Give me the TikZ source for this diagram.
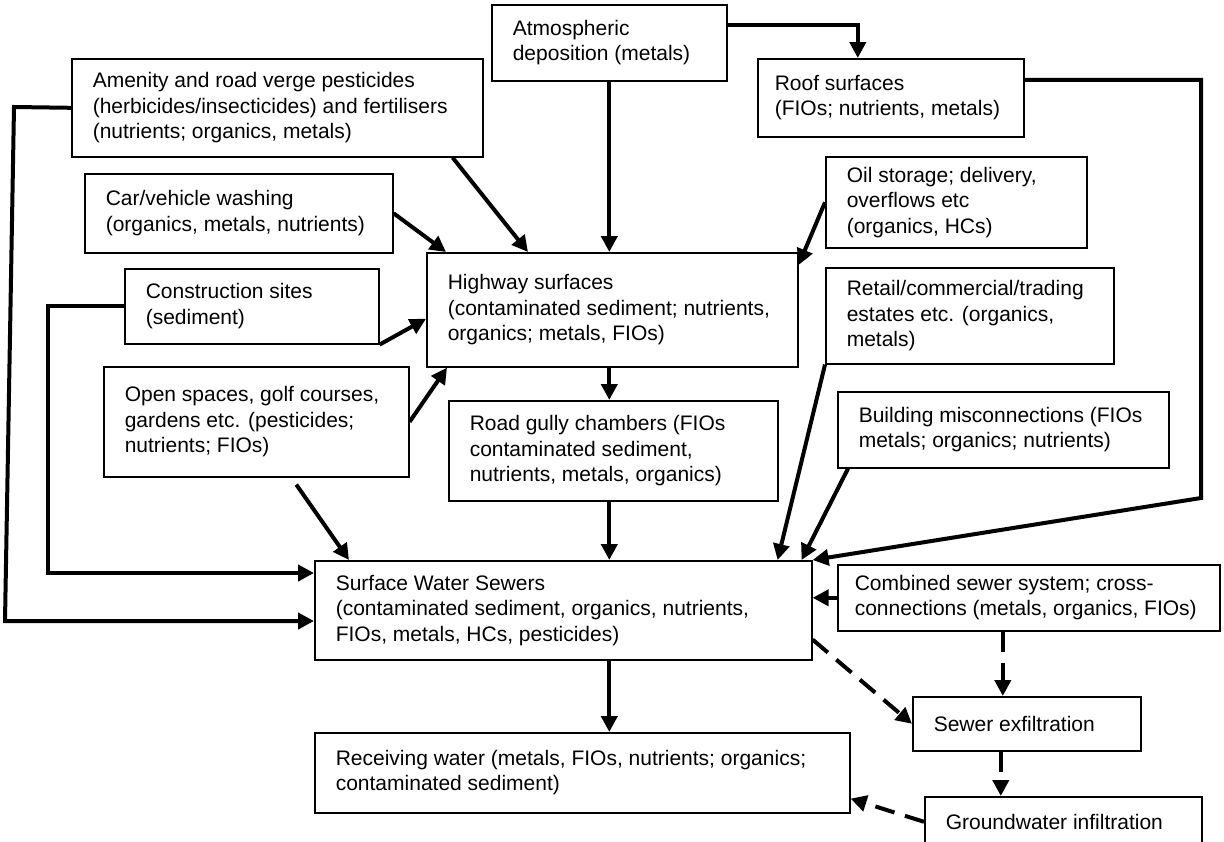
\documentclass[tikz,border=0pt]{standalone}
\usepackage{fontspec}
\setmainfont{Liberation Sans}
\usetikzlibrary{arrows.meta}
\tikzset{
    box/.style={draw, line width=1.6pt, rectangle, anchor=north west, align=flush left,
        inner ysep=0pt, font=\fontsize{21pt}{25.5pt}\selectfont},
    flow/.style={line width=4pt, -{Triangle[length=16pt, width=16pt]}},
    seep/.style={flow, dash pattern=on 20pt off 11pt},
}
\newcommand{\flowbox}[7][21]{% pad, name, x, y, width, height, text
    \pgfmathsetmacro{\boxtw}{#5-2*#1}
    \node[box, inner xsep=#1pt, minimum width=#5pt, minimum height=#6pt, text width=\boxtw pt] (#2) at (#3, #4) {#7};
}

\begin{document}
\begin{tikzpicture}[x=1pt, y=-1pt]
    \clip (0, 0) rectangle (1224, 841);
    \flowbox{atmos}{491}{4}{235}{76}{Atmospheric\\deposition (metals)}
    \flowbox[17]{roof}{757}{58}{266}{78}{Roof surfaces\\(FIOs; nutrients, metals)}
    \flowbox{amenity}{71}{58}{411}{98}{Amenity and road verge pesticides\\(herbicides/insecticides) and fertilisers\\(nutrients; organics, metals)}
    \flowbox{carwash}{84}{173}{308}{79}{Car/vehicle washing\\(organics, metals, nutrients)}
    \flowbox{oil}{825}{156}{261}{91}{Oil storage; delivery,\\overflows etc\\(organics, HCs)}
    \flowbox{highway}{426}{252}{371}{114}{Highway surfaces\\(contaminated sediment; nutrients,\\organics; metals, FIOs)}
    \flowbox{construction}{124}{268}{254}{75}{Construction sites\\(sediment)}
    \flowbox{retail}{825}{267}{288}{96}{Retail/commercial/trading\\estates etc. (organics,\\metals)}
    \flowbox{openspace}{103}{366}{305}{110}{Open spaces, golf courses,\\gardens etc. (pesticides;\\nutrients; FIOs)}
    \flowbox{building}{837}{391}{331}{76}{Building misconnections (FIOs\\metals; organics; nutrients)}
    \flowbox{gully}{448}{400}{329}{100}{Road gully chambers (FIOs\\contaminated sediment,\\nutrients, metals, organics)}
    \flowbox{sewers}{314}{560}{497}{99}{Surface Water Sewers\\(contaminated sediment, organics, nutrients,\\FIOs, metals, HCs, pesticides)}
    \flowbox[17]{combined}{837}{564}{382}{66}{Combined sewer system; cross-\\connections (metals, organics, FIOs)}
    \flowbox{exfil}{912}{696}{228}{54}{Sewer exfiltration}
    \flowbox{receiving}{314}{732}{535}{80}{Receiving water (metals, FIOs, nutrients; organics;\\contaminated sediment)}
    \flowbox{ground}{924}{796}{277}{50}{Groundwater infiltration}
    \coordinate (amenityleft) at (14, 107);
    \coordinate (amenitylow) at (5, 621);
    \coordinate (constrleft) at (48, 573);
    \coordinate (roofright) at (1201, 498);
    \draw[flow] ([yshift=-21pt]atmos.north east) -| ([xshift=-33pt]roof.north);
    \draw[flow] (atmos.south) -- (atmos.south |- highway.north);
    \draw[flow] ([xshift=-31pt]amenity.south east) -- ([xshift=102pt]highway.north west);
    \draw[flow] (carwash.east) -- ([xshift=20pt]highway.north west);
    \draw[flow] (construction.south east) -- ([yshift=-9pt]highway.west);
    \draw[flow] (openspace.east) -- ([xshift=21pt]highway.south west);
    \draw[flow] (oil.west) -- ([yshift=-13pt]highway.north east);
    \draw[flow] (highway.south -| atmos.south) -- (gully.north -| atmos.south);
    \draw[flow] (gully.south -| atmos.south) -- (sewers.north -| atmos.south);
    \draw[flow] (sewers.south -| atmos.south) -- (receiving.north -| atmos.south);
    \draw[flow] (amenity.west) -- (amenityleft) -- (amenitylow) -- (amenitylow -| sewers.west);
    \draw[flow] (construction.west) -| (constrleft) -- (constrleft -| sewers.west);
    \draw[flow] ([shift={(40pt,-7pt)}]openspace.south) -- ([xshift=35pt]sewers.north west);
    \draw[flow] ([yshift=18pt]roof.east) -| (roofright) -- (sewers.north east);
    \draw[flow] (retail.south west) -- ([xshift=-35pt]sewers.north east);
    \draw[flow] ([xshift=11pt]building.south west) -- ([xshift=-11pt]sewers.north east);
    \draw[flow] (combined.west) -- (combined.west -| sewers.east);
    \draw[seep] ([yshift=21pt]sewers.south east) -- (exfil.west);
    \draw[seep] ([xshift=-26pt]combined.south) -- ([xshift=-26pt]combined.south |- exfil.north);
    \draw[seep] ([xshift=-26pt]exfil.south) -- ([xshift=-26pt]exfil.south |- ground.north);
    \draw[seep] (ground.west) -- ([yshift=15pt]receiving.south east);
\end{tikzpicture}
\end{document}
